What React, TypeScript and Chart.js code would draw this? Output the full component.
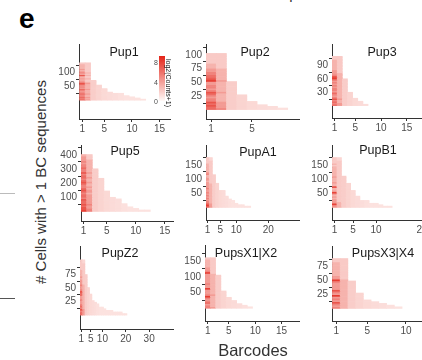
import React, { useEffect, useRef } from "react";
import { Chart, registerables } from "chart.js";
Chart.register(...registerables);

// ---------- data ----------
// Each panel: rows (cells) sorted by number of barcodes, grouped in equal bands from the bottom.
// widths = barcodes per band, first/second = log2(Counts+1) of barcode 1 and 2, tailLog2 = barcodes 3+.
const panelNames = ["Pup1", "Pup2", "Pup3", "Pup5", "PupA1", "PupB1", "PupZ2", "PupsX1|X2", "PupsX3|X4"];
const cellCounts = [134, 102, 110, 402, 175, 176, 101, 160, 88];

const pup1Widths = [12, 11, 10, 9, 8, 8, 6, 5, 5, 5, 4, 4, 4, 3, 3, 3, 3, 2, 2, 2, 2, 2, 2, 2, 2, 2, 2, 2, 2, 2, 2, 2];
const pup1First = [6, 5, 6, 5, 5, 6, 5, 4, 5, 6, 4, 5, 4, 6, 7, 5, 4, 3, 4, 3, 4, 7, 3, 5, 4, 3, 4, 3, 3, 3, 3, 2];
const pup1Second = [4, 3, 4, 3, 3, 4, 3, 3, 3, 4, 3, 3, 3, 3, 4, 3, 2, 2, 3, 2, 2, 3, 2, 3, 2, 2, 2, 2, 2, 2, 2, 2];

const pup2Widths = [8, 7, 6, 5, 5, 4, 4, 4, 4, 3, 3, 3, 3, 3, 3, 3, 3, 2, 2, 2, 2, 2, 2, 2, 2, 2, 2, 2, 2, 2, 2, 2, 2, 2];
const pup2First = [6, 6, 7, 6, 7, 5, 5, 4, 5, 6, 7, 5, 4, 5, 5, 4, 4, 8, 7, 6, 6, 5, 5, 4, 4, 3, 3, 3, 2, 2, 2, 2, 2, 2];
const pup2Second = [5, 4, 4, 4, 4, 3, 3, 3, 3, 3, 4, 3, 3, 3, 3, 3, 3, 4, 3, 3, 3, 3, 3, 3, 3, 2, 2, 2, 2, 2, 2, 2, 2, 2];

const pup3Widths = [7, 6, 6, 5, 5, 4, 4, 4, 4, 3, 3, 3, 3, 3, 3, 3, 3, 3, 2, 2, 2, 2, 2, 2, 2, 2, 2, 2, 2, 2, 2, 2, 2];
const pup3First = [6, 5, 6, 5, 7, 5, 4, 5, 6, 4, 5, 5, 4, 5, 4, 5, 4, 6, 8, 7, 5, 4, 4, 4, 3, 3, 3, 3, 3, 3, 3, 2, 2];
const pup3Second = [4, 4, 3, 3, 4, 3, 3, 3, 3, 3, 3, 3, 3, 3, 3, 3, 3, 3, 3, 3, 3, 3, 2, 2, 2, 2, 2, 2, 2, 2, 2, 2, 2];

const pup5Widths = [12, 10, 9, 8, 8, 7, 7, 7, 6, 5, 5, 5, 5, 4, 4, 4, 4, 4, 4, 4, 4, 3, 3, 3, 3, 3, 3, 2, 2, 2, 2, 2, 2, 2, 2, 2];
const pup5First = [8, 7, 7, 6, 7, 6, 6, 7, 5, 6, 6, 5, 6, 7, 6, 5, 5, 6, 7, 6, 5, 6, 6, 5, 7, 5, 5, 6, 5, 5, 4, 5, 4, 4, 4, 3];
const pup5Second = [5, 5, 4, 4, 5, 4, 4, 4, 4, 4, 4, 3, 4, 4, 3, 4, 3, 3, 4, 3, 3, 4, 3, 3, 4, 3, 3, 3, 3, 3, 3, 3, 3, 2, 2, 2];

const pupA1Widths = [14, 12, 10, 9, 9, 8, 7, 7, 6, 6, 6, 6, 4, 4, 4, 4, 4, 3, 3, 3, 3, 3, 3, 2, 2, 2, 2, 2, 2, 2, 2, 2, 2, 2, 2];
const pupA1First = [6, 8, 7, 5, 5, 4, 5, 4, 5, 4, 5, 4, 4, 5, 4, 4, 4, 4, 3, 4, 4, 3, 3, 5, 4, 3, 3, 3, 3, 3, 3, 2, 2, 2, 2];
const pupA1Second = [4, 4, 4, 3, 3, 3, 3, 3, 3, 3, 3, 3, 3, 3, 3, 3, 3, 2, 2, 2, 2, 2, 2, 2, 2, 2, 2, 2, 2, 2, 2, 2, 2, 1.5, 1.5];

const pupB1Widths = [13, 11, 10, 8, 8, 6, 6, 6, 5, 5, 5, 5, 4, 4, 4, 4, 4, 3, 3, 3, 3, 3, 2, 2, 2, 2, 2, 2, 2, 2, 2, 2, 2, 2, 2];
const pupB1First = [4, 5, 8, 4, 4, 4, 3, 4, 3, 4, 8, 4, 3, 3, 8, 3, 3, 4, 3, 3, 3, 4, 3, 3, 3, 3, 3, 3, 3, 2, 3, 2, 2, 2, 2];
const pupB1Second = [3, 3, 3, 3, 2, 2, 2, 2, 2, 2, 2, 2, 2, 2, 2, 2, 2, 2, 2, 2, 2, 2, 2, 2, 2, 2, 2, 2, 2, 2, 2, 2, 2, 1.5, 1.5];

const pupZ2Widths = [20, 18, 14, 11, 10, 8, 8, 7, 6, 5, 5, 5, 5, 4, 4, 4, 4, 3, 3, 3, 3, 3, 3, 3, 3, 2, 2, 2, 2, 2, 2, 2, 2, 2];
const pupZ2First = [6, 6, 5, 7, 5, 6, 5, 4, 4, 5, 4, 4, 6, 6, 7, 5, 4, 4, 5, 4, 4, 4, 3, 4, 3, 3, 3, 3, 2, 2, 2, 2, 2, 2];
const pupZ2Second = [4, 4, 4, 4, 3, 3, 3, 3, 3, 3, 3, 3, 3, 3, 3, 3, 3, 3, 3, 2, 2, 2, 2, 2, 2, 2, 2, 2, 2, 2, 2, 2, 1.5, 1.5];

const pupsX12Widths = [9, 8, 7, 6, 6, 5, 5, 4, 4, 4, 4, 3, 3, 3, 3, 3, 3, 3, 3, 3, 3, 2, 2, 2, 2, 2, 2, 2, 2, 2, 2, 2];
const pupsX12First = [5, 5, 4, 6, 5, 4, 5, 8, 5, 4, 4, 4, 8, 4, 4, 5, 4, 4, 4, 4, 4, 4, 8, 5, 4, 4, 3, 3, 3, 3, 3, 2];
const pupsX12Second = [4, 3, 3, 3, 3, 3, 3, 3, 4, 3, 3, 3, 3, 3, 3, 3, 3, 3, 3, 3, 3, 3, 2, 2, 2, 2, 2, 2, 2, 2, 2, 2];

const pupsX34Widths = [9, 8, 7, 6, 5, 4, 4, 4, 4, 3, 3, 3, 3, 3, 3, 3, 2, 2, 2, 2, 2, 2, 2, 2, 2, 2, 2, 2, 2];
const pupsX34First = [5, 4, 5, 7, 4, 5, 4, 8, 4, 5, 7, 4, 4, 4, 4, 5, 8, 4, 4, 3, 3, 3, 3, 3, 3, 3, 3, 2, 2];
const pupsX34Second = [3, 3, 3, 3, 3, 3, 3, 3, 3, 3, 3, 3, 3, 3, 3, 3, 3, 2, 2, 2, 2, 2, 2, 2, 2, 2, 2, 2, 2];

const tailLog2 = [1.9, 1.6, 1.4, 1.3, 1.2, 1.1, 1.0];

const xTickValues = [[1, 5, 10, 15], [1, 5], [1, 5, 10, 15], [1, 5, 10, 15], [1, 5, 10, 20], [1, 5, 10, 20], [1, 5, 10, 20, 30], [1, 5, 10, 15], [1, 5, 10]];
const yTickValues = [[50, 100], [25, 50, 75, 100], [30, 60, 90], [100, 200, 300, 400], [50, 100, 150], [50, 100, 150], [25, 50, 75], [50, 100, 150], [25, 50, 75]];
const xRanges = [[0.4, 16.9], [0.5, 9.6], [0.5, 19.5], [0.55, 16.4], [0.5, 29.6], [0.44, 21.7], [0.4, 40.2], [0.49, 18.3], [0.45, 13.1]];

const widthsList = [pup1Widths, pup2Widths, pup3Widths, pup5Widths, pupA1Widths, pupB1Widths, pupZ2Widths, pupsX12Widths, pupsX34Widths];
const firstList = [pup1First, pup2First, pup3First, pup5First, pupA1First, pupB1First, pupZ2First, pupsX12First, pupsX34First];
const secondList = [pup1Second, pup2Second, pup3Second, pup5Second, pupA1Second, pupB1Second, pupZ2Second, pupsX12Second, pupsX34Second];

const legendTicks = [0, 4, 8];

// ---------- layout ----------
// plot box: left, top, right, bottom (page pixels)
const boxes = [
  [79, 44, 170, 119],
  [206, 44, 299, 119],
  [332, 44, 430, 118],
  [81, 145, 173, 221],
  [206, 145, 299, 220],
  [332, 145, 430, 220],
  [80, 246, 173, 329],
  [205, 245, 299, 321],
  [332, 246, 430, 321],
];
const titlePos = [
  [124, 52], [255, 52], [382, 52],
  [125, 151], [258, 152], [378, 150],
  [120, 253], [246, 253], [383, 253],
];

const LOW = [255, 250, 248];
const HIGH = [228, 36, 24];
const VMAX = 9;
function fillFor(v: number) {
  const t = Math.max(0, Math.min(1, v / VMAX));
  const c = LOW.map((l, i) => Math.round(l + (HIGH[i] - l) * t));
  return `rgb(${c[0]},${c[1]},${c[2]})`;
}

const FONT = "'Liberation Sans', Arial, Helvetica, sans-serif";
const Y_W = 30;
const X_H = 22;
const PAD_T = 8;
const PAD_R = 6;

function Panel({ idx }: { idx: number }) {
  const ref = useRef<HTMLCanvasElement>(null);
  const [L, T, R, B] = boxes[idx];
  const w = R - L + Y_W + PAD_R;
  const h = B - T + PAD_T + X_H;
  useEffect(() => {
    const widths = widthsList[idx];
    const first = firstList[idx];
    const second = secondList[idx];
    const cells = cellCounts[idx];
    const band = cells / widths.length;
    const data: any[] = [];
    const colors: string[] = [];
    widths.forEach((n, i) => {
      const yc = 0.5 + (i + 0.5) * band;
      for (let j = 1; j <= n; j++) {
        const v = j === 1 ? first[i] : j === 2 ? second[i] : tailLog2[Math.min(j - 3, tailLog2.length - 1)];
        data.push({ x: [j - 0.5, j + 0.5], y: yc });
        colors.push(fillFor(v));
      }
    });
    const tickFont = { family: FONT, size: 10 };
    const chart = new Chart(ref.current!, {
      type: "bar",
      data: {
        datasets: [
          {
            data,
            backgroundColor: colors,
            borderWidth: 0,
            categoryPercentage: 1,
            barPercentage: 1,
            inflateAmount: 0.3,
          } as any,
        ],
      },
      options: {
        indexAxis: "y",
        animation: false,
        responsive: false,
        events: [],
        layout: { padding: { top: PAD_T, right: PAD_R, left: 0, bottom: 0 } },
        plugins: { legend: { display: false }, tooltip: { enabled: false }, title: { display: false } },
        scales: {
          x: {
            type: "linear",
            min: xRanges[idx][0],
            max: xRanges[idx][1],
            afterBuildTicks: (s: any) => {
              s.ticks = xTickValues[idx].map((v) => ({ value: v }));
            },
            afterFit: (s: any) => {
              s.height = X_H;
            },
            grid: { drawOnChartArea: false, tickLength: 3, color: "#333", tickWidth: 1 },
            border: { display: true, color: "#333", width: 1 },
            ticks: { font: tickFont, color: "#4d4d4d", padding: 1, maxRotation: 0, autoSkip: false },
          },
          y: {
            type: "linear",
            min: 0.5,
            max: cells + 0.5,
            afterBuildTicks: (s: any) => {
              s.ticks = yTickValues[idx].map((v) => ({ value: v }));
            },
            afterFit: (s: any) => {
              s.width = Y_W;
            },
            grid: { drawOnChartArea: false, tickLength: 3, color: "#333", tickWidth: 1 },
            border: { display: true, color: "#333", width: 1 },
            ticks: { font: tickFont, color: "#4d4d4d", padding: 1, autoSkip: false },
          },
        },
      } as any,
    });
    return () => chart.destroy();
  }, [idx]);
  return (
    <canvas
      ref={ref}
      width={w}
      height={h}
      style={{ position: "absolute", left: L - Y_W, top: T - PAD_T, width: w, height: h }}
    />
  );
}

export default function App() {
  return (
    <div
      style={{
        position: "absolute",
        left: 0,
        top: 0,
        width: 422,
        height: 360,
        overflow: "hidden",
        background: "#fff",
        fontFamily: FONT,
      }}
    >
      <div
        style={{
          position: "absolute",
          left: 255,
          top: -15,
          transform: "translateX(-50%)",
          fontSize: 15,
          lineHeight: "17px",
          color: "#333",
          whiteSpace: "nowrap",
        }}
      >
        Number of BC sequences
      </div>
      <div style={{ position: "absolute", left: 19, top: 4, fontSize: 28, fontWeight: "bold", color: "#000", lineHeight: "30px" }}>e</div>
      <div style={{ position: "absolute", left: 0, top: 193, width: 15, height: 1, background: "#bbb" }} />
      <div style={{ position: "absolute", left: 0, top: 298, width: 15, height: 1, background: "#555" }} />
      {panelNames.map((_, i) => (
        <Panel key={i} idx={i} />
      ))}
      {panelNames.map((name, i) => (
        <div
          key={"t" + i}
          style={{
            position: "absolute",
            left: titlePos[i][0],
            top: titlePos[i][1],
            transform: "translate(-50%, -50%)",
            fontSize: 12.5,
            color: "#1a1a1a",
            whiteSpace: "nowrap",
          }}
        >
          {name}
        </div>
      ))}
      {/* colour key in Pup1 */}
      <div
        style={{
          position: "absolute",
          left: 159,
          top: 56,
          width: 6,
          height: 45,
          background: `linear-gradient(to top, ${fillFor(0)}, ${fillFor(VMAX * 1.03)})`,
        }}
      />
      {legendTicks.map((v) => (
        <div
          key={"l" + v}
          style={{
            position: "absolute",
            left: 153,
            width: 5,
            textAlign: "right",
            top: 100.7 - v * 4.8,
            transform: "translateY(-50%)",
            fontSize: 7,
            color: "#4d4d4d",
          }}
        >
          {v}
        </div>
      ))}
      <div
        style={{
          position: "absolute",
          left: 168,
          top: 83,
          transform: "translate(-50%, -50%) rotate(90deg)",
          fontSize: 7,
          color: "#1a1a1a",
          whiteSpace: "nowrap",
        }}
      >
        log2(Counts+1)
      </div>
      <div
        style={{
          position: "absolute",
          left: 40,
          top: 182,
          transform: "translate(-50%, -50%) rotate(-90deg)",
          fontSize: 15,
          color: "#333",
          whiteSpace: "nowrap",
        }}
      >
        # Cells with &gt; 1 BC sequences
      </div>
      <div
        style={{
          position: "absolute",
          left: 253,
          top: 350,
          transform: "translate(-50%, -50%)",
          fontSize: 16.5,
          color: "#333",
          whiteSpace: "nowrap",
        }}
      >
        Barcodes
      </div>
    </div>
  );
}
